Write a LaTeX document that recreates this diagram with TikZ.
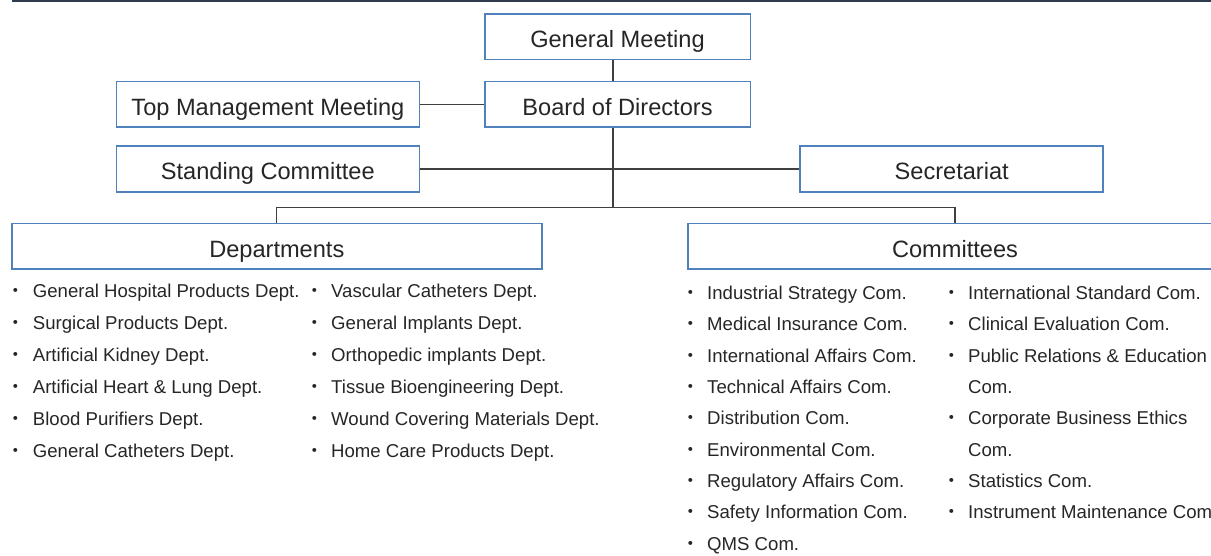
\documentclass[tikz,border=0pt]{standalone}
\usepackage{fontspec}
\setmainfont{Liberation Sans}
\newfontfamily\cjk{Noto Sans CJK JP}
\usetikzlibrary{positioning}
\definecolor{bdr}{RGB}{79,129,189}
\definecolor{ln}{RGB}{64,64,64}
\definecolor{txt}{RGB}{38,38,38}
\definecolor{rulec}{RGB}{46,58,78}
\newcommand{\bul}{\makebox[26pt][l]{\cjk ・}}

\begin{document}
\begin{tikzpicture}[x=1pt,y=-1pt,text=txt,
  box/.style={draw=bdr,line width=1.6pt,fill=white,minimum height=45.5pt,inner sep=2pt,
    font=\fontsize{23.6}{28}\selectfont,text height=22pt,text depth=0pt},
  sbox/.style={box,minimum width=303pt}, wbox/.style={box,minimum width=530pt},
  lst/.style={anchor=base west,inner sep=0pt,align=left,font=\fontsize{18.6}{32}\selectfont},
  clst/.style={lst,font=\fontsize{18.6}{31.3}\selectfont},
  conn/.style={draw=ln,line width=1.3pt}]
\useasboundingbox (0,0) rectangle (1211,556);
\draw[rulec,line width=2pt] (12,1) -- (1215,1);
% upper boxes
\node[box,minimum width=265.6pt] (gm) at (617.5,36.9) {General Meeting};
\node[box,minimum width=265.6pt,below=20.3pt of gm] (bod) {Board of Directors};
\node[sbox,left=63.7pt of bod] (tmm) {Top Management Meeting};
\node[sbox] (sc) at (267.8,169) {Standing Committee};
\node[sbox] (sec) at (951.7,169) {Secretariat};
\node[wbox] (dep) at (276.8,246.2) {Departments};
\node[wbox,minimum width=534pt] (com) at (955,246.2) {Committees};
% lines
\coordinate (bar) at (613,207.3);
\draw[conn] (gm.south -| bar) -- (bod.north -| bar);
\draw[conn] (tmm) -- (bod);
\draw[conn] (sc) -- (sec);
\draw[conn] (bod.south -| bar) -- (bar);
\draw[conn] (dep.north) |- (bar) -| (com.north);
% lists (base = last line)
\node[lst] (dl) at (6.7,457) {\bul General Hospital Products Dept.\\ \bul Surgical Products Dept.\\
  \bul Artificial Kidney Dept.\\ \bul Artificial Heart \& Lung Dept.\\ \bul Blood Purifiers Dept.\\
  \bul General Catheters Dept.};
\node[lst] (dr) at (305,457) {\bul Vascular Catheters Dept.\\ \bul General Implants Dept.\\
  \bul Orthopedic implants Dept.\\ \bul Tissue Bioengineering Dept.\\
  \bul Wound Covering Materials Dept.\\ \bul Home Care Products Dept.};
\node[clst] (cl) at (681,550) {\bul Industrial Strategy Com.\\ \bul Medical Insurance Com.\\
  \bul International Affairs Com.\\ \bul Technical Affairs Com.\\ \bul Distribution Com.\\
  \bul Environmental Com.\\ \bul Regulatory Affairs Com.\\ \bul Safety Information Com.\\
  \bul QMS Com.};
\node[clst] (cr) at (942,518.7) {\bul International Standard Com.\\ \bul Clinical Evaluation Com.\\
  \bul Public Relations \& Education\\ \phantom{\bul}Com.\\ \bul Corporate Business Ethics\\
  \phantom{\bul}Com.\\ \bul Statistics Com.\\ \bul Instrument Maintenance Com.};
\end{tikzpicture}
\end{document}
